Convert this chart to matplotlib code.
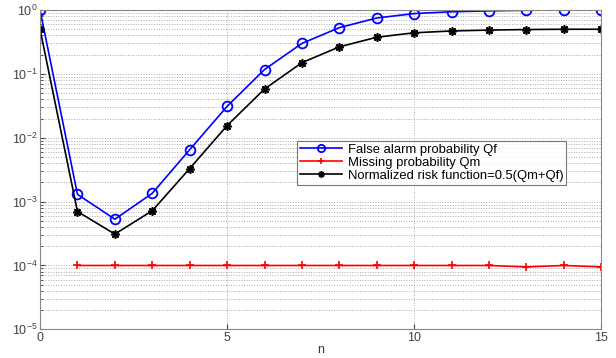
import matplotlib
matplotlib.use("Agg")
import matplotlib.pyplot as plt
import numpy as np

plt.rcParams['font.family'] = ['Liberation Sans', 'DejaVu Sans']

# data
n = np.arange(0, 16)
qf = [1.0, 1.3e-3, 5.3e-4, 1.35e-3, 6.5e-3, 0.031, 0.117, 0.30, 0.53,
      0.75, 0.88, 0.94, 0.97, 0.99, 1.0, 1.0]
n_m = np.arange(1, 16)
qm = [1.0e-4, 1.0e-4, 1.0e-4, 1.0e-4, 1.0e-4, 1.0e-4, 1.0e-4, 1.0e-4,
      1.0e-4, 1.0e-4, 1.0e-4, 1.0e-4, 0.95e-4, 1.0e-4, 0.95e-4]
risk = [0.5, 7.0e-4, 3.1e-4, 7.2e-4, 3.3e-3, 0.0155, 0.058, 0.15, 0.265,
        0.375, 0.44, 0.47, 0.485, 0.495, 0.5, 0.5]

fig = plt.figure(figsize=(6.16, 3.58), dpi=100)
ax = fig.add_axes([0.065, 0.08, 0.911, 0.892])

ax.semilogy(n, qf, color='#0000ff', marker='o', markersize=7,
            markerfacecolor='none', markeredgewidth=1.3, linewidth=1.2,
            label='False alarm probability Qf')
ax.semilogy(n_m, qm, color='#ff0000', marker='+', markersize=6,
            markeredgewidth=1.2, linewidth=1.2, label='Missing probability Qm')
ax.semilogy(n, risk, color='black', marker=(8, 2, 0), markersize=6,
            markeredgewidth=1.2, linewidth=1.2,
            label='Normalized risk function=0.5(Qm+Qf)')

ax.set_xlim(0, 15)
ax.set_ylim(1e-5, 1)
ax.set_xticks([0, 5, 10, 15])
ax.grid(True, which='major', linestyle=':', color='#aaaaaa', linewidth=0.7)
ax.grid(True, which='minor', axis='y', linestyle=':', color='#aaaaaa', linewidth=0.7)
ax.tick_params(which='both', direction='in', labelsize=9, colors='#444444', pad=2)
for s in ax.spines.values():
    s.set_color('#888888')
ax.set_xlabel('n', fontsize=9, color='#333333', labelpad=0)

leg = ax.legend(loc='upper right', bbox_to_anchor=(0.937, 0.59), fontsize=9.4,
                frameon=True, fancybox=False, edgecolor='#555555',
                borderpad=0.2, labelspacing=0.08, handlelength=3.2,
                handletextpad=0.45, borderaxespad=0, markerscale=0.75)
leg.get_frame().set_linewidth(0.8)

fig.savefig('out.png', dpi=100)
